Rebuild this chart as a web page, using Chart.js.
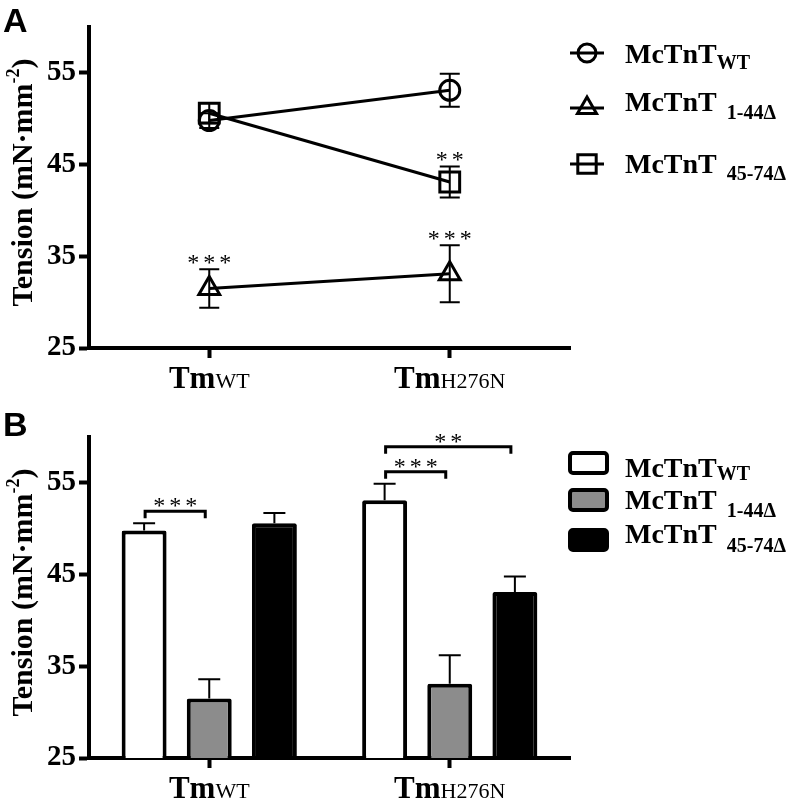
<!DOCTYPE html>
<html>
<head>
<meta charset="utf-8">
<script src="https://cdn.jsdelivr.net/npm/chart.js@4.4.0/dist/chart.umd.min.js"></script>
<style>
  body { margin: 0; background: #fff; }
  canvas { display: block; }
</style>
</head>
<body>
<canvas id="chartA" width="800" height="400"></canvas>
<canvas id="chartB" width="800" height="404"></canvas>
<script>
// --- Data ---
const categories = ["TmWT", "TmH276N"];
const catMain = ["Tm", "Tm"];
const catSub = ["WT", "H276N"];
const seriesMain = ["McTnT", "McTnT", "McTnT"];
const seriesSub = ["WT", "1-44\u0394", "45-74\u0394"];
const yTicks = [25, 35, 45, 55];

const wtMean = [49.8, 53.1];
const wtSem = [0.8, 1.8];
const d144Mean = [31.5, 33.1];
const d144Sem = [2.1, 3.1];
const d4574Mean = [50.6, 43.1];
const d4574Sem = [1.1, 1.7];

// significance stars in panel A (per category)
const wtStars = [0, 0];
const d144Stars = [3, 3];
const d4574Stars = [0, 2];

// brackets in panel B
const bracketGroup = [0, 1, 1];
const bracketFrom = [0, 0, 0];
const bracketTo = [1, 1, 2];
const bracketStars = [3, 3, 2];
const bracketLevel = [0, 0, 1];

const means = [wtMean, d144Mean, d4574Mean];
const sems = [wtSem, d144Sem, d4574Sem];
const starsA = [wtStars, d144Stars, d4574Stars];

const SERIF = "'Liberation Serif', 'Times New Roman', serif";
Chart.defaults.font.family = SERIF;
Chart.defaults.color = "#000";

// --- helpers ---
function drawStars(ctx, cx, baseline, n) {
  ctx.save();
  ctx.font = "24px " + SERIF;
  ctx.fillStyle = "#000";
  ctx.textAlign = "center";
  ctx.textBaseline = "alphabetic";
  for (let k = 0; k < n; k++) {
    ctx.fillText("*", cx + (k - (n - 1) / 2) * 16, baseline);
  }
  ctx.restore();
}

function drawMarker(ctx, style, x, y, r) {
  ctx.beginPath();
  if (style === "circle") {
    ctx.arc(x, y, r, 0, Math.PI * 2);
  } else if (style === "triangle") {
    ctx.moveTo(x, y - r);
    ctx.lineTo(x + r * 0.866, y + r * 0.5);
    ctx.lineTo(x - r * 0.866, y + r * 0.5);
    ctx.closePath();
  } else {
    const s = r * Math.SQRT1_2;
    ctx.rect(x - s, y - s, 2 * s, 2 * s);
  }
  ctx.stroke();
}

function drawXLabels(chart) {
  const { ctx, scales } = chart;
  const y = chart.chartArea.bottom + 40;
  ctx.save();
  ctx.fillStyle = "#000";
  ctx.textBaseline = "alphabetic";
  ctx.textAlign = "left";
  categories.forEach((c, i) => {
    const x = scales.x.getPixelForValue(i);
    ctx.font = "bold 31px " + SERIF;
    const w1 = ctx.measureText(catMain[i]).width;
    ctx.font = "22px " + SERIF;
    const w2 = ctx.measureText(catSub[i]).width;
    const x0 = x - (w1 + w2) / 2;
    ctx.font = "bold 31px " + SERIF;
    ctx.fillText(catMain[i], x0, y);
    ctx.font = "22px " + SERIF;
    ctx.fillText(catSub[i], x0 + w1, y);
  });
  ctx.restore();
}

function drawYTitle(chart) {
  const { ctx, chartArea } = chart;
  const cy = (chartArea.top + chartArea.bottom) / 2 - 5;
  ctx.save();
  ctx.translate(32, cy);
  ctx.rotate(-Math.PI / 2);
  ctx.fillStyle = "#000";
  ctx.textBaseline = "alphabetic";
  ctx.textAlign = "left";
  const p1 = "Tension (mN\u00B7mm", p2 = "-2", p3 = ")";
  ctx.font = "bold 30px " + SERIF;
  const w1 = ctx.measureText(p1).width, w3 = ctx.measureText(p3).width;
  ctx.font = "bold 18px " + SERIF;
  const w2 = ctx.measureText(p2).width;
  let x = -(w1 + w2 + w3) / 2;
  ctx.font = "bold 30px " + SERIF;
  ctx.fillText(p1, x, 0);
  x += w1;
  ctx.font = "bold 18px " + SERIF;
  ctx.fillText(p2, x, -13);
  x += w2;
  ctx.font = "bold 30px " + SERIF;
  ctx.fillText(p3, x, 0);
  ctx.restore();
}

function drawPanelLetter(ctx, letter, baseline) {
  ctx.save();
  ctx.font = "bold 34px 'Liberation Sans'";
  ctx.fillStyle = "#000";
  ctx.textAlign = "left";
  ctx.fillText(letter, 3, baseline);
  ctx.restore();
}

function drawLegendText(ctx, i, x, base, subBase) {
  ctx.font = "bold 28px " + SERIF;
  ctx.fillText(seriesMain[i], x, base);
  const w = ctx.measureText(seriesMain[i]).width;
  ctx.font = "bold 20px " + SERIF;
  ctx.fillText(seriesSub[i], x + w + (i === 0 ? 0 : 10), subBase);
}

// --- Panel A plugin ---
const markerStyles = ["circle", "triangle", "rect"];
const markerRadius = [10, 12, 14];

const panelAPlugin = {
  id: "panelA",
  afterDatasetsDraw(chart) {
    const { ctx, scales } = chart;
    ctx.save();
    ctx.strokeStyle = "#000";
    ctx.lineWidth = 2;
    means.forEach((m, s) => {
      m.forEach((v, i) => {
        const x = scales.x.getPixelForValue(i);
        const yTop = scales.y.getPixelForValue(v + sems[s][i]);
        const yBot = scales.y.getPixelForValue(v - sems[s][i]);
        ctx.beginPath();
        ctx.moveTo(x, yTop); ctx.lineTo(x, yBot);
        ctx.moveTo(x - 10, yTop); ctx.lineTo(x + 10, yTop);
        ctx.moveTo(x - 10, yBot); ctx.lineTo(x + 10, yBot);
        ctx.stroke();
        if (starsA[s][i]) drawStars(ctx, x, yTop + 1, starsA[s][i]);
      });
    });
    ctx.restore();
  },
  afterDraw(chart) {
    const { ctx } = chart;
    drawXLabels(chart);
    drawYTitle(chart);
    drawPanelLetter(ctx, "A", 32);
    // legend
    const symY = [53, 108, 164];
    const base = [63, 111, 173];
    const subBase = [69, 119, 180];
    ctx.save();
    ctx.strokeStyle = "#000";
    ctx.fillStyle = "#000";
    seriesMain.forEach((n, i) => {
      ctx.lineWidth = 3;
      ctx.beginPath();
      ctx.moveTo(570, symY[i]); ctx.lineTo(604, symY[i]);
      ctx.stroke();
      drawMarker(ctx, markerStyles[i], 587, symY[i], markerRadius[i] - 1);
      drawLegendText(ctx, i, 625, base[i], subBase[i]);
    });
    ctx.restore();
  }
};

const axisCommon = {
  border: { display: true, width: 4, color: "#000" }
};

new Chart(document.getElementById("chartA"), {
  type: "line",
  data: {
    labels: categories,
    datasets: means.map((m, s) => ({
      label: seriesMain[s] + seriesSub[s],
      data: m,
      borderColor: "#000",
      borderWidth: 3,
      pointStyle: markerStyles[s],
      pointRadius: markerRadius[s],
      pointBorderWidth: 3,
      pointBorderColor: "#000",
      pointBackgroundColor: "rgba(0,0,0,0)",
      fill: false,
      tension: 0,
      clip: false
    }))
  },
  options: {
    responsive: false,
    animation: false,
    layout: { padding: { left: 0, right: 230, top: 27, bottom: 0 } },
    plugins: { legend: { display: false }, tooltip: { enabled: false } },
    scales: {
      x: {
        ...axisCommon,
        offset: true,
        grid: { display: true, drawOnChartArea: false, drawTicks: true, tickLength: 10, tickWidth: 4, tickColor: "#000", offset: false },
        ticks: { callback: () => "" },
        afterFit: (s) => { s.height = 52; }
      },
      y: {
        ...axisCommon,
        min: 25, max: 60,
        afterBuildTicks: (s) => { s.ticks = yTicks.map(v => ({ value: v })); },
        grid: { display: true, drawOnChartArea: false, drawTicks: true, tickLength: 10, tickWidth: 4, tickColor: "#000" },
        ticks: { font: { family: SERIF, weight: "bold", size: 29 }, color: "#000", padding: 3 },
        afterFit: (s) => { s.width = 89; }
      }
    }
  },
  plugins: [panelAPlugin]
});

// --- Panel B plugin ---
const barFill = ["#ffffff", "#8c8c8c", "#000000"];

const panelBPlugin = {
  id: "panelB",
  afterDatasetsDraw(chart) {
    const { ctx, scales } = chart;
    ctx.save();
    ctx.strokeStyle = "#000";
    ctx.lineWidth = 2;
    means.forEach((m, s) => {
      const meta = chart.getDatasetMeta(s);
      m.forEach((v, i) => {
        const x = meta.data[i].x;
        const yTop = scales.y.getPixelForValue(v + sems[s][i]);
        const yMid = scales.y.getPixelForValue(v);
        ctx.beginPath();
        ctx.moveTo(x, yMid); ctx.lineTo(x, yTop);
        ctx.moveTo(x - 11, yTop); ctx.lineTo(x + 11, yTop);
        ctx.stroke();
      });
    });
    // brackets
    ctx.lineWidth = 3;
    bracketGroup.forEach((g, b) => {
      const f = bracketFrom[b], t = bracketTo[b];
      const xa = chart.getDatasetMeta(f).data[g].x + 1;
      const xb = chart.getDatasetMeta(t).data[g].x - 4;
      const top = Math.min(
        scales.y.getPixelForValue(means[f][g] + sems[f][g]),
        scales.y.getPixelForValue(means[t][g] + sems[t][g])
      );
      const y = top - 12 - bracketLevel[b] * 25;
      ctx.beginPath();
      ctx.moveTo(xa, y + 7); ctx.lineTo(xa, y); ctx.lineTo(xb, y); ctx.lineTo(xb, y + 7);
      ctx.stroke();
      drawStars(ctx, (xa + xb) / 2, y + 2, bracketStars[b]);
    });
    ctx.restore();
  },
  afterDraw(chart) {
    const { ctx } = chart;
    drawXLabels(chart);
    drawYTitle(chart);
    drawPanelLetter(ctx, "B", 36);
    const boxY = [63, 100, 140];
    const base = [77, 109, 143];
    const subBase = [80, 117, 152];
    ctx.save();
    seriesMain.forEach((n, i) => {
      ctx.fillStyle = barFill[i];
      ctx.strokeStyle = "#000";
      ctx.lineWidth = 4;
      ctx.beginPath();
      ctx.roundRect(570, boxY[i] - 10, 37, 20, 3);
      ctx.fill();
      ctx.stroke();
      ctx.fillStyle = "#000";
      drawLegendText(ctx, i, 625, base[i], subBase[i]);
    });
    ctx.restore();
  }
};

new Chart(document.getElementById("chartB"), {
  type: "bar",
  data: {
    labels: categories,
    datasets: means.map((m, s) => ({
      label: seriesMain[s] + seriesSub[s],
      data: m,
      backgroundColor: barFill[s],
      borderColor: "#000",
      borderWidth: 4,
      borderSkipped: "start",
      borderRadius: 2,
      categoryPercentage: 0.8125,
      barPercentage: 0.69
    }))
  },
  options: {
    responsive: false,
    animation: false,
    layout: { padding: { left: 0, right: 230, top: 37, bottom: 0 } },
    plugins: { legend: { display: false }, tooltip: { enabled: false } },
    scales: {
      x: {
        ...axisCommon,
        offset: true,
        grid: { display: true, drawOnChartArea: false, drawTicks: true, tickLength: 10, tickWidth: 4, tickColor: "#000", offset: false },
        ticks: { callback: () => "" },
        afterFit: (s) => { s.height = 46; }
      },
      y: {
        ...axisCommon,
        min: 25, max: 60,
        afterBuildTicks: (s) => { s.ticks = yTicks.map(v => ({ value: v })); },
        grid: { display: true, drawOnChartArea: false, drawTicks: true, tickLength: 10, tickWidth: 4, tickColor: "#000" },
        ticks: { font: { family: SERIF, weight: "bold", size: 29 }, color: "#000", padding: 3 },
        afterFit: (s) => { s.width = 89; }
      }
    }
  },
  plugins: [panelBPlugin]
});
</script>
</body>
</html>
